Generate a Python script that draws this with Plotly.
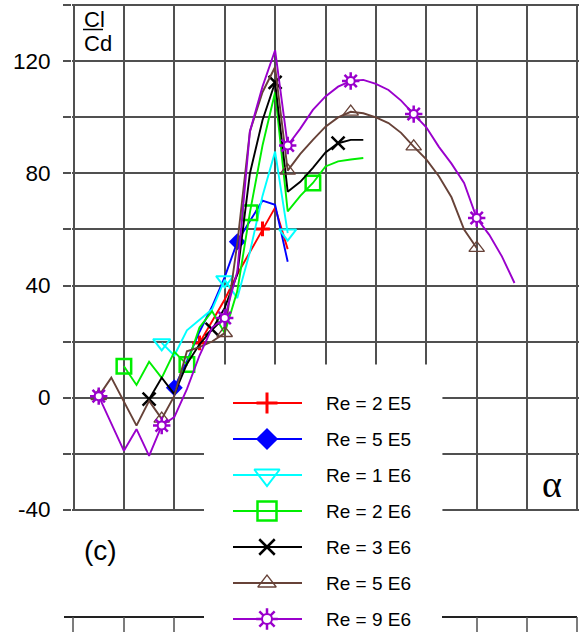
import plotly.graph_objects as go

W, H = 586, 632

# ---------------- data (alpha in degrees, Cl/Cd) ----------------
alpha_2e5 = [1, 1.5, 2, 2.5, 3, 3.5, 4, 4.5]
cld_2e5 = [19.5, 27, 35, 44, 52, 60.2, 67.8, 53]
mark_2e5 = [1, 3.5]

alpha_5e5 = [0, 0.5, 1, 1.5, 2, 2.5, 3, 3.5, 4, 4.5]
cld_5e5 = [3.5, 13, 23.5, 32.5, 43, 55.6, 63, 70.3, 68.8, 48.5]
mark_5e5 = [0, 2.5]

alpha_1e6 = [-0.5, 0, 0.5, 1, 1.5, 2, 2.5, 3, 3.5, 4, 4.5]
cld_1e6 = [19.5, 15, 24, 27.6, 31.5, 42, 35.5, 52, 72, 87.8, 58.7]
mark_1e6 = [-0.5, 2, 4.5]

alpha_2e6 = [-2, -1.5, -1, -0.5, 0, 0.5, 1, 1.5, 2, 2.5, 3, 3.5, 4, 4.5,
             5, 5.5, 6, 6.5, 7, 7.5]
cld_2e6 = [11.2, 4.5, 12.8, 7, 16.3, 11.8, 25, 30.8, 23, 38, 66, 90, 109, 66.5,
           72, 76.6, 82.5, 84.3, 85, 85.5]
mark_2e6 = [-2, 0.5, 3, 5.5]

alpha_3e6 = [-1, -0.5, 0, 0.5, 1, 1.5, 2, 2.5, 3, 3.5, 4, 4.5, 5, 5.5, 6,
             6.5, 7, 7.5]
cld_3e6 = [-0.6, 7.1, 1.2, 12, 19, 24.3, 32, 44, 80, 99, 112.5, 73.5, 77, 82,
           87.5, 90.8, 92, 92]
mark_3e6 = [-1, 1.5, 4, 6.5]

alpha_5e6 = [-3, -2.5, -1.5, -1, -0.5, 0, 0.5, 1, 1.5, 2, 2.5, 3, 3.5, 4, 4.5,
             5, 5.5, 6, 6.5, 7, 7.5, 8, 8.5, 9, 9.5, 10, 10.5, 11, 11.5, 12]
cld_5e6 = [0.5, 7.1, -10, -1.2, -7.6, 0.6, 16.5, 18, 20, 23, 55, 95, 109, 118,
           81, 87, 92, 96.7, 100, 102, 101.5, 100, 98, 94.5, 89.6, 85, 79,
           71.5, 60, 53.4]
mark_5e6 = [-3, -0.5, 2, 4.5, 7, 9.5, 12]

alpha_9e6 = [-3, -2, -1.5, -1, -0.5, 0, 0.5, 1, 1.5, 2, 2.5, 3, 3.5, 4, 4.5,
             5, 5.5, 6, 6.5, 7, 7.5, 8, 8.5, 9, 9.5, 10, 10.5, 11, 11.5, 12,
             12.5, 13, 13.5]
cld_9e6 = [0.5, -19, -11.3, -20.8, -10, -7, 3, 15, 25, 28.4, 45, 95, 111, 124,
           90, 96, 102.7, 107.5, 111, 113, 113.4, 112, 109.8, 106, 101.2,
           96.5, 89.5, 83.5, 76.6, 64.1, 58.1, 50.4, 40.9]
mark_9e6 = [-3, -0.5, 2, 4.5, 7, 9.5, 12]

legend_labels = ["Re = 2 E5", "Re = 5 E5", "Re = 1 E6", "Re = 2 E6",
                 "Re = 3 E6", "Re = 5 E6", "Re = 9 E6"]

y_tick_values = [-40, -20, 0, 20, 40, 60, 80, 100, 120, 140]
y_tick_labels = ["-40", "", "0", "", "40", "", "80", "", "120", ""]

# ---------------- styles ----------------
styles = [
    dict(color="#ff0000", symbol="cross-thin", size=10.5, lsize=15, lw=3, fill="#ff0000"),
    dict(color="#0000ff", symbol="diamond", size=13, lsize=17, lw=0, fill="#0000ff"),
    dict(color="#00ffff", symbol="triangle-down-open", size=15, lsize=22, lw=2, fill="#00ffff"),
    dict(color="#00ee00", symbol="square-open", size=14.5, lsize=19, lw=2.5, fill="#00ee00"),
    dict(color="#000000", symbol="x-thin", size=13, lsize=15.5, lw=2.5, fill="#000000"),
    dict(color="#674238", symbol="triangle-up-open", size=13.5, lsize=16, lw=1.3, fill="#674238"),
    dict(color="#9a00cc", symbol="asterisk-open", size=14.5, lsize=18, lw=2.5, fill="#9a00cc"),
]
series = [
    (alpha_2e5, cld_2e5, mark_2e5),
    (alpha_5e5, cld_5e5, mark_5e5),
    (alpha_1e6, cld_1e6, mark_1e6),
    (alpha_2e6, cld_2e6, mark_2e6),
    (alpha_3e6, cld_3e6, mark_3e6),
    (alpha_5e6, cld_5e6, mark_5e6),
    (alpha_9e6, cld_9e6, mark_9e6),
]

FONT = "Liberation Sans, Arial, sans-serif"
GRID = "#505050"

fig = go.Figure()

# white panel behind the legend (covers the grid, drawn under the curves)
fig.add_trace(go.Scatter(x=[1.2, 10.64, 10.64, 1.2, 1.2], y=[11.8, 11.8, -80, -80, 11.8],
                         mode="lines", fill="toself", fillcolor="white",
                         line=dict(width=0, color="white"),
                         showlegend=False, hoverinfo="skip"))

for (a, v, m), st in zip(series, styles):
    fig.add_trace(go.Scatter(x=a, y=v, mode="lines",
                             line=dict(color=st["color"], width=1.9),
                             showlegend=False, hoverinfo="skip"))
    mx = [ai for ai, vi in zip(a, v) if ai in m]
    my = [vi for ai, vi in zip(a, v) if ai in m]
    fig.add_trace(go.Scatter(x=mx, y=my, mode="markers",
                             marker=dict(symbol=st["symbol"], size=st["size"],
                                         color=st["fill"],
                                         line=dict(color=st["color"], width=st["lw"])),
                             showlegend=False, hoverinfo="skip"))
    if st["symbol"] == "asterisk-open":
        fig.add_trace(go.Scatter(x=mx, y=my, mode="markers",
                                 marker=dict(symbol="circle", size=8, color="white",
                                             line=dict(color=st["color"], width=2)),
                                 showlegend=False, hoverinfo="skip"))

# ---------------- hand-drawn legend on a helper subplot (pixel units) ----------------
row0, drow = 403, 36
for i, (lab, st) in enumerate(zip(legend_labels, styles)):
    ry = row0 + drow * i
    fig.add_trace(go.Scatter(x=[233, 302], y=[ry, ry], mode="lines",
                             line=dict(color=st["color"], width=1.8),
                             xaxis="x2", yaxis="y2", showlegend=False, hoverinfo="skip"))
    fig.add_trace(go.Scatter(x=[267], y=[ry], mode="markers",
                             marker=dict(symbol=st["symbol"], size=st["lsize"],
                                         color=st["fill"],
                                         line=dict(color=st["color"], width=st["lw"])),
                             xaxis="x2", yaxis="y2", showlegend=False, hoverinfo="skip"))
    if st["symbol"] == "asterisk-open":
        fig.add_trace(go.Scatter(x=[267], y=[ry], mode="markers",
                                 marker=dict(symbol="circle", size=10, color="white",
                                             line=dict(color=st["color"], width=2)),
                                 xaxis="x2", yaxis="y2", showlegend=False, hoverinfo="skip"))
    fig.add_annotation(x=324, y=ry, xref="x2", yref="y2", text=lab, showarrow=False,
                       xanchor="left", yanchor="middle",
                       font=dict(family=FONT, size=19, color="black"))


def px(p):
    return p / W


def py(p):
    return 1 - p / H


shapes = [
    # fraction bar of Cl/Cd
    dict(type="line", xref="paper", yref="paper", x0=px(83), x1=px(103),
         y0=py(29.5), y1=py(29.5), line=dict(color="black", width=1.5)),
]
# top edge of the next panel (cut off)
for xa, xb in [(64, 204), (442, 577)]:
    shapes.append(dict(type="line", xref="paper", yref="paper", x0=px(xa), x1=px(xb),
                       y0=py(617), y1=py(617), line=dict(color="#222", width=2)))
for xv in [73, 124, 174, 477, 527, 577]:
    shapes.append(dict(type="line", xref="paper", yref="paper", x0=px(xv), x1=px(xv),
                       y0=py(617), y1=0, line=dict(color=GRID, width=1.5)))

fig.update_layout(shapes=shapes)

fig.add_annotation(x=px(82), y=py(20), xref="paper", yref="paper", text="Cl",
                   showarrow=False, xanchor="left", yanchor="middle",
                   font=dict(family=FONT, size=22, color="black"))
fig.add_annotation(x=px(82), y=py(43), xref="paper", yref="paper", text="Cd",
                   showarrow=False, xanchor="left", yanchor="middle",
                   font=dict(family=FONT, size=22, color="black"))
fig.add_annotation(x=px(100), y=py(550), xref="paper", yref="paper", text="(c)",
                   showarrow=False, xanchor="center", yanchor="middle",
                   font=dict(family=FONT, size=28, color="black"))
fig.add_annotation(x=px(552), y=py(484), xref="paper", yref="paper", text="α",
                   showarrow=False, xanchor="center", yanchor="middle",
                   font=dict(family="Liberation Serif, Times New Roman, serif",
                             size=38, color="black"))

fig.update_layout(
    width=W, height=H,
    margin=dict(l=0, r=0, t=0, b=0, pad=0, autoexpand=False),
    paper_bgcolor="white", plot_bgcolor="white",
    showlegend=False,
    xaxis=dict(domain=[72 / W, 579 / W], range=[-4.06, 16.06], dtick=2, tick0=-4,
               showgrid=True, gridcolor=GRID, gridwidth=1.5, zeroline=False,
               showline=False, ticks="", showticklabels=False, fixedrange=True,
               automargin=False),
    yaxis=dict(domain=[1 - 511 / H, 1 - 4 / H], range=[-40.5, 140.5],
               tickvals=y_tick_values, ticktext=y_tick_labels,
               showgrid=True, gridcolor=GRID, gridwidth=1.5, zeroline=False,
               showline=False, ticks="outside", ticklen=8, tickwidth=1.5,
               tickcolor=GRID, ticklabelstandoff=8, automargin=False,
               tickfont=dict(family=FONT, size=22.5, color="black"), fixedrange=True),
    xaxis2=dict(domain=[204 / W, 442 / W], range=[204, 442], visible=False,
                anchor="y2", fixedrange=True, automargin=False),
    yaxis2=dict(domain=[0, 1 - 365 / H], range=[632, 365], visible=False,
                anchor="x2", fixedrange=True, automargin=False),
)

fig.write_html("out.html",
               config={"displayModeBar": False, "responsive": False},
               post_script="document.body.style.margin='0';"
                           "document.body.style.overflow='hidden';")
